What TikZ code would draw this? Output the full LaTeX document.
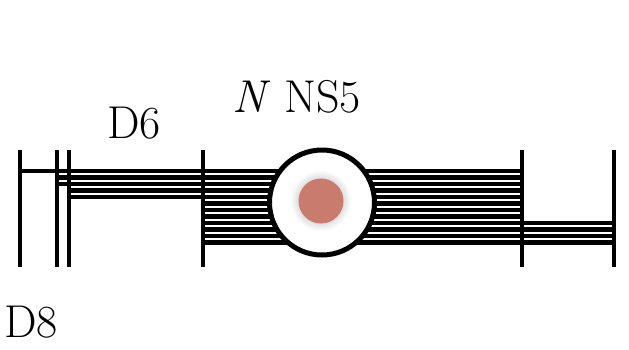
\documentclass[tikz,border=0pt]{standalone}
\usepackage{fontspec}
\setmainfont{Latin Modern Roman}
\usepackage{xcolor}
\definecolor{chargered}{RGB}{201,123,110}
\tikzset{
  brane/.style={line width=4.5pt},
  dbrane/.style={line width=4.6pt},
  lbl/.style={anchor=base west, inner sep=0pt, font=\fontsize{46}{50}\selectfont},
}
\begin{document}
\begin{tikzpicture}[x=1pt,y=-1pt]
  \useasboundingbox (0,0) rectangle (629,349);

  \pgfmathsetmacro{\gap}{6.5};
  \pgfmathsetmacro{\ytop}{171};
  \coordinate (C) at (322,202.5);
  \coordinate (Q) at (321,201);

  % NS5 branes
  \foreach \x in {20,57,69,203,522,614}
    \draw[brane] (\x,150) -- (\x,267);

  % D6 branes
  \foreach \i/\xs in {0/20,1/57,2/57,3/69,4/69}
    \draw[dbrane] (\xs,{\ytop+\i*\gap}) -- (522,{\ytop+\i*\gap});
  \foreach \i in {5,6,7}
    \draw[dbrane] (203,{\ytop+\i*\gap}) -- (522,{\ytop+\i*\gap});
  \foreach \i in {8,...,11}
    \draw[dbrane] (203,{\ytop+\i*\gap}) -- (614,{\ytop+\i*\gap});

  % the N NS5 stack
  \draw[line width=5pt, fill=white] (C) circle (52.5pt);
  \foreach \r in {23,...,30}
    \fill[black, opacity=0.015] (Q) circle (\r pt);
  \fill[chargered] (Q) circle (22.5pt);

  \node[lbl] (d6) at (107,138) {D6};
  \node[lbl] (ns5) at (232,112) {\textit{N} NS5};
  \node[lbl] (d8) at (4,337) {D8};

\end{tikzpicture}
\end{document}
